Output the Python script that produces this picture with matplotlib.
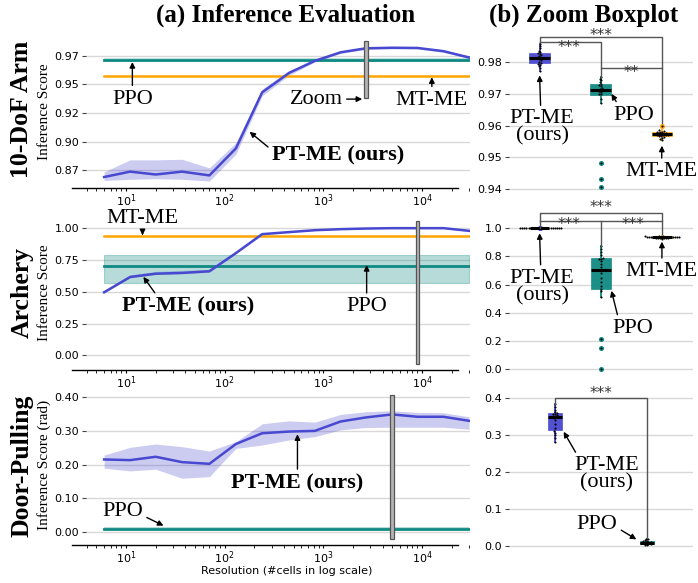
import warnings
warnings.filterwarnings('ignore')
import numpy as np
import matplotlib
matplotlib.use('Agg')
import matplotlib.pyplot as plt
from matplotlib.patches import Rectangle
import pandas as pd
import seaborn as sns

# ---------------- data ----------------
resolution = [6, 11, 20, 37, 70, 130, 240, 450, 820, 1500, 2700, 5000, 9000, 16500, 30000]

arm_ptme = [0.869, 0.8737, 0.8712, 0.8737, 0.8704, 0.894, 0.943, 0.960, 0.9705, 0.978, 0.9815, 0.982, 0.9818, 0.979, 0.9735]
arm_ptme_lo = [0.866, 0.867, 0.8675, 0.867, 0.8655, 0.889, 0.940, 0.958, 0.9695, 0.977, 0.9805, 0.981, 0.981, 0.978, 0.9725]
arm_ptme_hi = [0.8735, 0.884, 0.884, 0.8845, 0.877, 0.899, 0.946, 0.962, 0.9715, 0.979, 0.9825, 0.983, 0.9828, 0.980, 0.9745]
arm_ppo = [0.9697, 0.9712, 0.9728]      # lo, mean, hi
arm_mtme = 0.9575
arm_zoom_res = 2700

arch_ptme = [0.496, 0.616, 0.642, 0.648, 0.661, 0.804, 0.953, 0.969, 0.984, 0.992, 0.997, 1.0, 1.0, 1.0, 0.979]
arch_ptme_lo = [0.490, 0.610, 0.636, 0.642, 0.655, 0.798, 0.948, 0.965, 0.981, 0.990, 0.996, 0.999, 0.999, 0.999, 0.975]
arch_ptme_hi = [0.502, 0.632, 0.660, 0.668, 0.676, 0.812, 0.958, 0.973, 0.987, 0.994, 0.999, 1.0, 1.0, 1.0, 0.983]
arch_ppo = [0.567, 0.705, 0.789]
arch_mtme = 0.935
arch_zoom_res = 9000

door_ptme = [0.215, 0.213, 0.223, 0.207, 0.202, 0.261, 0.293, 0.298, 0.300, 0.328, 0.340, 0.349, 0.342, 0.342, 0.330]
door_ptme_lo = [0.189, 0.181, 0.186, 0.159, 0.164, 0.248, 0.258, 0.273, 0.283, 0.303, 0.310, 0.311, 0.311, 0.311, 0.305]
door_ptme_hi = [0.228, 0.251, 0.261, 0.253, 0.240, 0.268, 0.321, 0.330, 0.326, 0.349, 0.357, 0.360, 0.355, 0.354, 0.342]
door_ppo = [0.005, 0.009, 0.013]
door_zoom_res = 5000

# boxplot samples (zoom resolution)
box_arm_ptme = [0.9772, 0.9780, 0.9786, 0.9791, 0.9795, 0.9797, 0.9801, 0.9806, 0.9810, 0.9813,
                0.9815, 0.9818, 0.9821, 0.9825, 0.9828, 0.9831, 0.9836, 0.9843, 0.9850, 0.9857]
box_arm_ppo = [0.9407, 0.9431, 0.9481, 0.9670, 0.9685, 0.9698, 0.9701, 0.9705, 0.9708, 0.9711,
               0.9713, 0.9716, 0.9719, 0.9724, 0.9729, 0.9732, 0.9737, 0.9742, 0.9747, 0.9752]
box_arm_mtme = [0.9555, 0.9559, 0.9562, 0.9565, 0.9567, 0.9568, 0.9569, 0.9570, 0.9571, 0.9572,
                0.9574, 0.9575, 0.9576, 0.9577, 0.9579, 0.9580, 0.9581, 0.9583, 0.9585, 0.9599]

box_arch_ptme = [0.9990, 0.9993, 0.9995, 0.9996, 0.9997, 0.9998, 0.9999, 0.9999, 1.0, 1.0,
                 1.0, 1.0, 1.0, 1.0, 1.0, 1.0, 1.0, 1.0, 1.0, 1.0]
box_arch_ppo = [0.0, 0.154, 0.2175, 0.51, 0.555, 0.571, 0.59, 0.62, 0.65, 0.68,
                0.725, 0.75, 0.77, 0.78, 0.785, 0.79, 0.81, 0.83, 0.85, 0.875]
box_arch_mtme = [0.925, 0.928, 0.930, 0.931, 0.932, 0.933, 0.934, 0.935, 0.935, 0.936,
                 0.936, 0.937, 0.937, 0.938, 0.939, 0.940, 0.941, 0.942, 0.943, 0.945]

box_door_ptme = [0.281, 0.290, 0.298, 0.305, 0.310, 0.318, 0.330, 0.340, 0.345, 0.348, 0.350, 0.352, 0.355, 0.357,
                 0.358, 0.362, 0.368, 0.375, 0.382]
box_door_ppo = [0.001, 0.003, 0.004, 0.005, 0.006, 0.007, 0.008, 0.008, 0.009, 0.010, 0.011, 0.012, 0.013, 0.015,
                0.017, 0.019]

arm_yticks = [0.875, 0.900, 0.925, 0.950, 0.975]
arm_yticklabels = ['0.87', '0.90', '0.92', '0.95', '0.97']
arch_yticks = [0.0, 0.25, 0.5, 0.75, 1.0]
arch_yticklabels = ['0.00', '0.25', '0.50', '0.75', '1.00']
door_yticks = [0.0, 0.1, 0.2, 0.3, 0.4]
door_yticklabels = ['0.00', '0.10', '0.20', '0.30', '0.40']

# ---------------- style ----------------
BLUE = '#4848d0'
TEAL = '#0f8a82'
ORANGE = '#ffa500'
GRID = '#d8d8d8'
SERIF = ['Liberation Serif', 'DejaVu Serif']
plt.rcParams['font.family'] = ['DejaVu Sans']

W, H = 698, 583
fig = plt.figure(figsize=(W / 100, H / 100), dpi=100)


def fa(l, t, r, b):
    return [l / W, 1 - b / H, (r - l) / W, (b - t) / H]


ax1 = fig.add_axes(fa(86, 34, 470, 188))
ax2 = fig.add_axes(fa(86, 213.4, 470, 370))
ax3 = fig.add_axes(fa(86, 387.7, 470, 545))
bx1 = fig.add_axes(fa(509, 36.9, 692.5, 195.6))
bx2 = fig.add_axes(fa(509, 219.8, 692.5, 378.5))
bx3 = fig.add_axes(fa(509, 395.1, 692.5, 553.8))

XLIM = (3.93, 30700)
ARW = dict(arrowstyle='-|>', color='black', lw=1.0, mutation_scale=8, shrinkA=1, shrinkB=0)


def style_left(ax, ylim, yt, ytl):
    ax.set_xscale('log')
    ax.set_xlim(*XLIM)
    ax.set_ylim(*ylim)
    ax.set_yticks(yt)
    ax.set_yticklabels(ytl)
    ax.grid(axis='y', color=GRID, lw=1.0)
    ax.grid(axis='x', visible=False)
    ax.set_axisbelow(True)
    for s in ['left', 'top', 'right']:
        ax.spines[s].set_visible(False)
    ax.spines['bottom'].set_color('black')
    ax.spines['bottom'].set_linewidth(1.0)
    ax.spines['bottom'].set_bounds(2.84, 23200)
    ax.tick_params(axis='y', length=3, width=0.8, color='#444444', labelsize=8, pad=2)
    ax.tick_params(axis='x', which='major', length=2.5, width=0.8, labelsize=8, pad=1)
    ax.tick_params(axis='x', which='minor', length=1.8, width=0.6)
    ax.set_facecolor('white')


def zoom_bar(ax, x, ylo, yhi):
    ax.add_patch(Rectangle((x / 1.042, ylo), x * 1.042 - x / 1.042, yhi - ylo,
                           facecolor='#b4b4b4', edgecolor='#555555', lw=0.9, zorder=6))


# ---------------- left panels ----------------
x = resolution
# 10-DoF Arm
ax1.fill_between(x, arm_ptme_lo, arm_ptme_hi, color=BLUE, alpha=0.28, lw=0)
ax1.plot(x, arm_ptme, color=BLUE, lw=1.8, zorder=4)
ax1.fill_between([x[0], x[-1]], [arm_ppo[0]] * 2, [arm_ppo[2]] * 2, color=TEAL, alpha=0.25, lw=0)
ax1.plot([x[0], x[-1]], [arm_ppo[1]] * 2, color=TEAL, lw=2.0, zorder=3)
ax1.plot([x[0], x[-1]], [arm_mtme] * 2, color=ORANGE, lw=1.8, zorder=3)
style_left(ax1, (0.8594, 0.994), arm_yticks, arm_yticklabels)

# Archery
ax2.fill_between(x, arch_ptme_lo, arch_ptme_hi, color=BLUE, alpha=0.28, lw=0)
ax2.plot(x, arch_ptme, color=BLUE, lw=1.8, zorder=4)
ax2.fill_between([x[0], x[-1]], [arch_ppo[0]] * 2, [arch_ppo[2]] * 2, facecolor=TEAL, alpha=0.3,
                 edgecolor=TEAL, lw=0.8)
ax2.plot([x[0], x[-1]], [arch_ppo[1]] * 2, color=TEAL, lw=2.0, zorder=3)
ax2.plot([x[0], x[-1]], [arch_mtme] * 2, color=ORANGE, lw=1.8, zorder=3)
style_left(ax2, (-0.115, 1.116), arch_yticks, arch_yticklabels)

# Door-Pulling
ax3.fill_between(x, door_ptme_lo, door_ptme_hi, color=BLUE, alpha=0.28, lw=0)
ax3.plot(x, door_ptme, color=BLUE, lw=1.8, zorder=4)
ax3.fill_between([x[0], x[-1]], [door_ppo[0]] * 2, [door_ppo[2]] * 2, color=TEAL, alpha=0.3, lw=0)
ax3.plot([x[0], x[-1]], [door_ppo[1]] * 2, color=TEAL, lw=2.0, zorder=3)
style_left(ax3, (-0.0395, 0.4285), door_yticks, door_yticklabels)

# ---------------- right panels (boxplots) ----------------
names = ['PT-ME', 'PPO', 'MT-ME']
cols = [BLUE, TEAL, ORANGE]


def boxpanel(ax, groups, widths, ylim, yt):
    n = len(groups)
    bp = ax.boxplot(groups, positions=list(range(n)), widths=widths, patch_artist=True,
                    showcaps=False, manage_ticks=False)
    for i in range(n):
        c = cols[i]
        bp['boxes'][i].set(facecolor=c, edgecolor=c, lw=0.5, alpha=0.95)
        bp['medians'][i].set(color='black', lw=2.2)
        for w in bp['whiskers'][2 * i:2 * i + 2]:
            w.set(color=c, lw=1.3)
        bp['fliers'][i].set(marker='o', markerfacecolor=c, markeredgecolor=c, markersize=2.6)
    df = pd.DataFrame({'m': sum([[names[i]] * len(g) for i, g in enumerate(groups)], []),
                       'v': sum([list(g) for g in groups], [])})
    sns.swarmplot(data=df, x='m', y='v', order=names[:n], color='black', size=1.5, ax=ax, zorder=5)
    ax.set_xlim(-0.5, n - 0.5)
    ax.set_ylim(*ylim)
    ax.set_yticks(yt)
    ax.set_xticks([])
    ax.set_xlabel('')
    ax.set_ylabel('')
    ax.grid(axis='y', color=GRID, lw=1.0)
    ax.set_axisbelow(True)
    for s in ax.spines.values():
        s.set_visible(False)
    ax.tick_params(axis='y', length=3, width=0.8, color='#444444', labelsize=8, pad=2)


boxpanel(bx1, [box_arm_ptme, box_arm_ppo, box_arm_mtme], 0.34, (0.938, 0.9879), [0.94, 0.95, 0.96, 0.97, 0.98])
bx1.set_yticklabels(['0.94', '0.95', '0.96', '0.97', '0.98'])
boxpanel(bx2, [box_arch_ptme, box_arch_ppo, box_arch_mtme], 0.32, (-0.065, 1.06), [0.0, 0.2, 0.4, 0.6, 0.8, 1.0])
bx2.set_yticklabels(['0.0', '0.2', '0.4', '0.6', '0.8', '1.0'])
boxpanel(bx3, [box_door_ptme, box_door_ppo], 0.15, (-0.022, 0.407), [0.0, 0.1, 0.2, 0.3, 0.4])
bx3.set_yticklabels(['0.0', '0.1', '0.2', '0.3', '0.4'])

# zoom bars on left panels
zoom_bar(ax1, arm_zoom_res, *bx1.get_ylim())
zoom_bar(ax2, arch_zoom_res, *bx2.get_ylim())
zoom_bar(ax3, door_zoom_res, *bx3.get_ylim())

# ---------------- significance brackets ----------------
BRC = '#555555'


def seg(ax, xs, ys):
    ax.plot(xs, ys, color=BRC, lw=1.0, clip_on=False, zorder=7)


def stars(ax, xp, yp, s):
    ax.text(xp, yp, s, ha='center', va='center', fontsize=11, color='#333333', clip_on=False, zorder=8)


seg(bx1, [0, 0, 2, 2], [0.98629, 0.98796, 0.98796, 0.9607])
seg(bx1, [0, 1, 1], [0.98629, 0.98629, 0.97519])
seg(bx1, [1, 2], [0.97821, 0.97821])
stars(bx1, 1.0, 0.9884, '***')
stars(bx1, 0.48, 0.9845, '***')
stars(bx1, 1.5, 0.9767, '**')

seg(bx2, [0, 0, 2, 2], [1.0, 1.106, 1.106, 0.96])
seg(bx2, [0, 2], [1.054, 1.054])
seg(bx2, [1, 1], [1.054, 0.875])
stars(bx2, 1.0, 1.145, '***')
stars(bx2, 0.48, 1.027, '***')
stars(bx2, 1.52, 1.027, '***')

seg(bx3, [0, 0, 1, 1], [0.382, 0.4, 0.4, 0.02])
stars(bx3, 0.5, 0.41, '***')

# ---------------- annotations ----------------


def ann(ax, s, xy, xyt, bold=False, relpos=(0.5, 0.5), size=16, ls=1.0):
    ap = dict(ARW)
    ap['relpos'] = relpos
    ax.annotate(s, xy=xy, xytext=xyt, ha='center', va='center', fontsize=size,
                fontweight='bold' if bold else 'normal', family=SERIF, arrowprops=ap,
                annotation_clip=False, zorder=9, linespacing=ls)


ann(ax1, 'PPO', (11.6, 0.9695), (11.6, 0.9371))
ann(ax1, 'Zoom', (2480, 0.9371), (843, 0.9371))
ann(ax1, 'MT-ME', (12600, 0.9562), (12600, 0.9362))
ann(ax1, 'PT-ME (ours)', (179, 0.9085), (1409, 0.8881), bold=True, relpos=(0.0, 0.75))

ann(ax2, 'MT-ME', (14.7, 0.945), (14.7, 1.072))
ann(ax2, 'PT-ME (ours)', (15.0, 0.617), (42.5, 0.383), bold=True, relpos=(0.27, 1.0))
ann(ax2, 'PPO', (2750, 0.71), (2750, 0.383))

ann(ax3, 'PT-ME (ours)', (547, 0.29), (547, 0.144), bold=True)
ann(ax3, 'PPO', (24, 0.018), (9.2, 0.0595), relpos=(1.0, 0.3))

ann(bx1, 'PT-ME\n(ours)', (0, 0.9758), (0.04, 0.9594), relpos=(0.48, 1.0), ls=0.85)
ann(bx1, 'PPO', (1.175, 0.970), (1.544, 0.96333), relpos=(0.15, 0.9))
ann(bx1, 'MT-ME', (2.0, 0.9537), (1.995, 0.9455), relpos=(0.5, 1.0))

ann(bx2, 'PT-ME\n(ours)', (0, 0.965), (0.04, 0.5835), relpos=(0.48, 1.0), ls=0.85)
ann(bx2, 'MT-ME', (2.0, 0.905), (2.0, 0.692), relpos=(0.5, 1.0))
ann(bx2, 'PPO', (1.175, 0.557), (1.53, 0.291), relpos=(0.15, 0.9))

ann(bx3, 'PT-ME\n(ours)', (0.096, 0.308), (0.568, 0.193), relpos=(0.05, 1.0), ls=0.85)
ann(bx3, 'PPO', (0.888, 0.017), (0.458, 0.056), relpos=(1.0, 0.35))

# ---------------- labels ----------------
fig.text(286 / W, 1 - 15 / H, '(a) Inference Evaluation', ha='center', va='center', fontsize=18,
         fontweight='bold', family=SERIF)
fig.text(584 / W, 1 - 15 / H, '(b) Zoom Boxplot', ha='center', va='center', fontsize=18,
         fontweight='bold', family=SERIF)
for lab, yc in [('10-DoF Arm', 109), ('Archery', 292), ('Door-Pulling', 466)]:
    fig.text(22 / W, 1 - yc / H, lab, rotation=90, ha='center', va='center', fontsize=18.5,
             fontweight='bold', family=SERIF)
for lab, yc in [('Inference Score', 111.7), ('Inference Score', 292.5), ('Inference Score (rad)', 465)]:
    fig.text(44 / W, 1 - yc / H, lab, rotation=90, ha='center', va='center', fontsize=11, family=SERIF)
fig.text(287 / W, 1 - 571 / H, 'Resolution (#cells in log scale)', ha='center', va='center', fontsize=8)

fig.savefig('out.png', dpi=100, facecolor='white')
